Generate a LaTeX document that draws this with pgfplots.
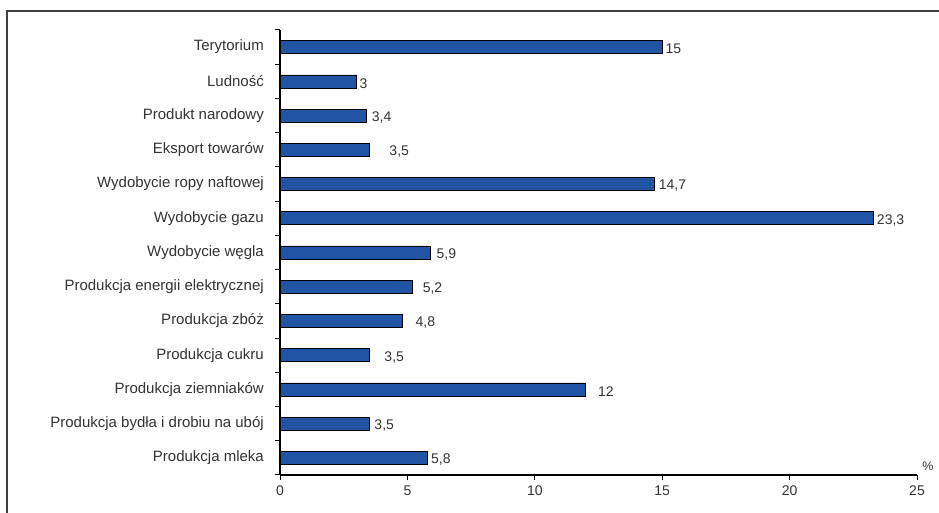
\documentclass[border=0pt]{standalone}
\usepackage{fontspec}
\setmainfont{Liberation Sans}
\usepackage{pgfplots}
\usepackage{pgfplotstable}
\pgfplotsset{compat=1.18}
\definecolor{barblue}{RGB}{33,84,163}
\definecolor{txt}{RGB}{51,51,51}
\pgfplotstableread{
y x dx
12 15 3
11 3 3
10 3.4 5
9 3.5 20
8 14.7 4
7 23.3 3
6 5.9 6
5 5.2 10
4 4.8 13
3 3.5 15
2 12 12
1 3.5 5
0 5.8 3
}\datatable
\begin{document}
\begin{tikzpicture}[font=\fontsize{15}{17}\selectfont]
\useasboundingbox (0pt,0pt) rectangle (939pt,513pt);
\draw[line width=2pt, color=black!75] (7pt,0pt) -- (7pt,502pt) -- (939pt,502pt);
\begin{axis}[at={(280pt,38pt)}, anchor=south west, scale only axis,
  width=637pt, height=445pt,
  xmin=0, xmax=25, ymin=-0.5, ymax=12.5,
  axis lines*=left,
  axis line style={line width=1.6pt, black},
  tick align=outside,
  major tick length=5pt,
  tick style={black, line width=1pt},
  xtick={0,5,...,25},
  xticklabel style={anchor=north, inner sep=0pt, yshift=-6pt, text=txt, font=\fontsize{14}{16}\selectfont},
  ytick={-0.5,0.5,...,12.5},
  yticklabels={},
  extra y ticks={0,1,...,12},
  extra y tick labels={Produkcja mleka,Produkcja bydła i drobiu na ubój,Produkcja ziemniaków,Produkcja cukru,Produkcja zbóż,Produkcja energii elektrycznej,Wydobycie węgla,Wydobycie gazu,Wydobycie ropy naftowej,Eksport towarów,Produkt narodowy,Ludność,Terytorium},
  extra y tick style={major tick length=0pt, tick style={draw=none}, yticklabel style={anchor=east, inner sep=0pt, xshift=-16pt, text=txt}},
  /pgf/number format/assume math mode=true,
  /pgf/number format/use comma,
  clip=false,
]
\addplot[xbar, bar width=13pt, fill=barblue, draw=black, line width=0.6pt,
  nodes near coords,
  visualization depends on={\thisrow{dx} \as \dx},
  nodes near coords style={anchor=west, inner sep=0pt, xshift=\dx pt, yshift=-2pt, text=txt, font=\fontsize{14}{16}\selectfont}]
  table[x=x, y=y]{\datatable};
\node[text=txt, font=\fontsize{12.5}{14}\selectfont] at (rel axis cs:1,0) [xshift=11pt, yshift=9pt] {\%};
\end{axis}
\end{tikzpicture}
\end{document}
